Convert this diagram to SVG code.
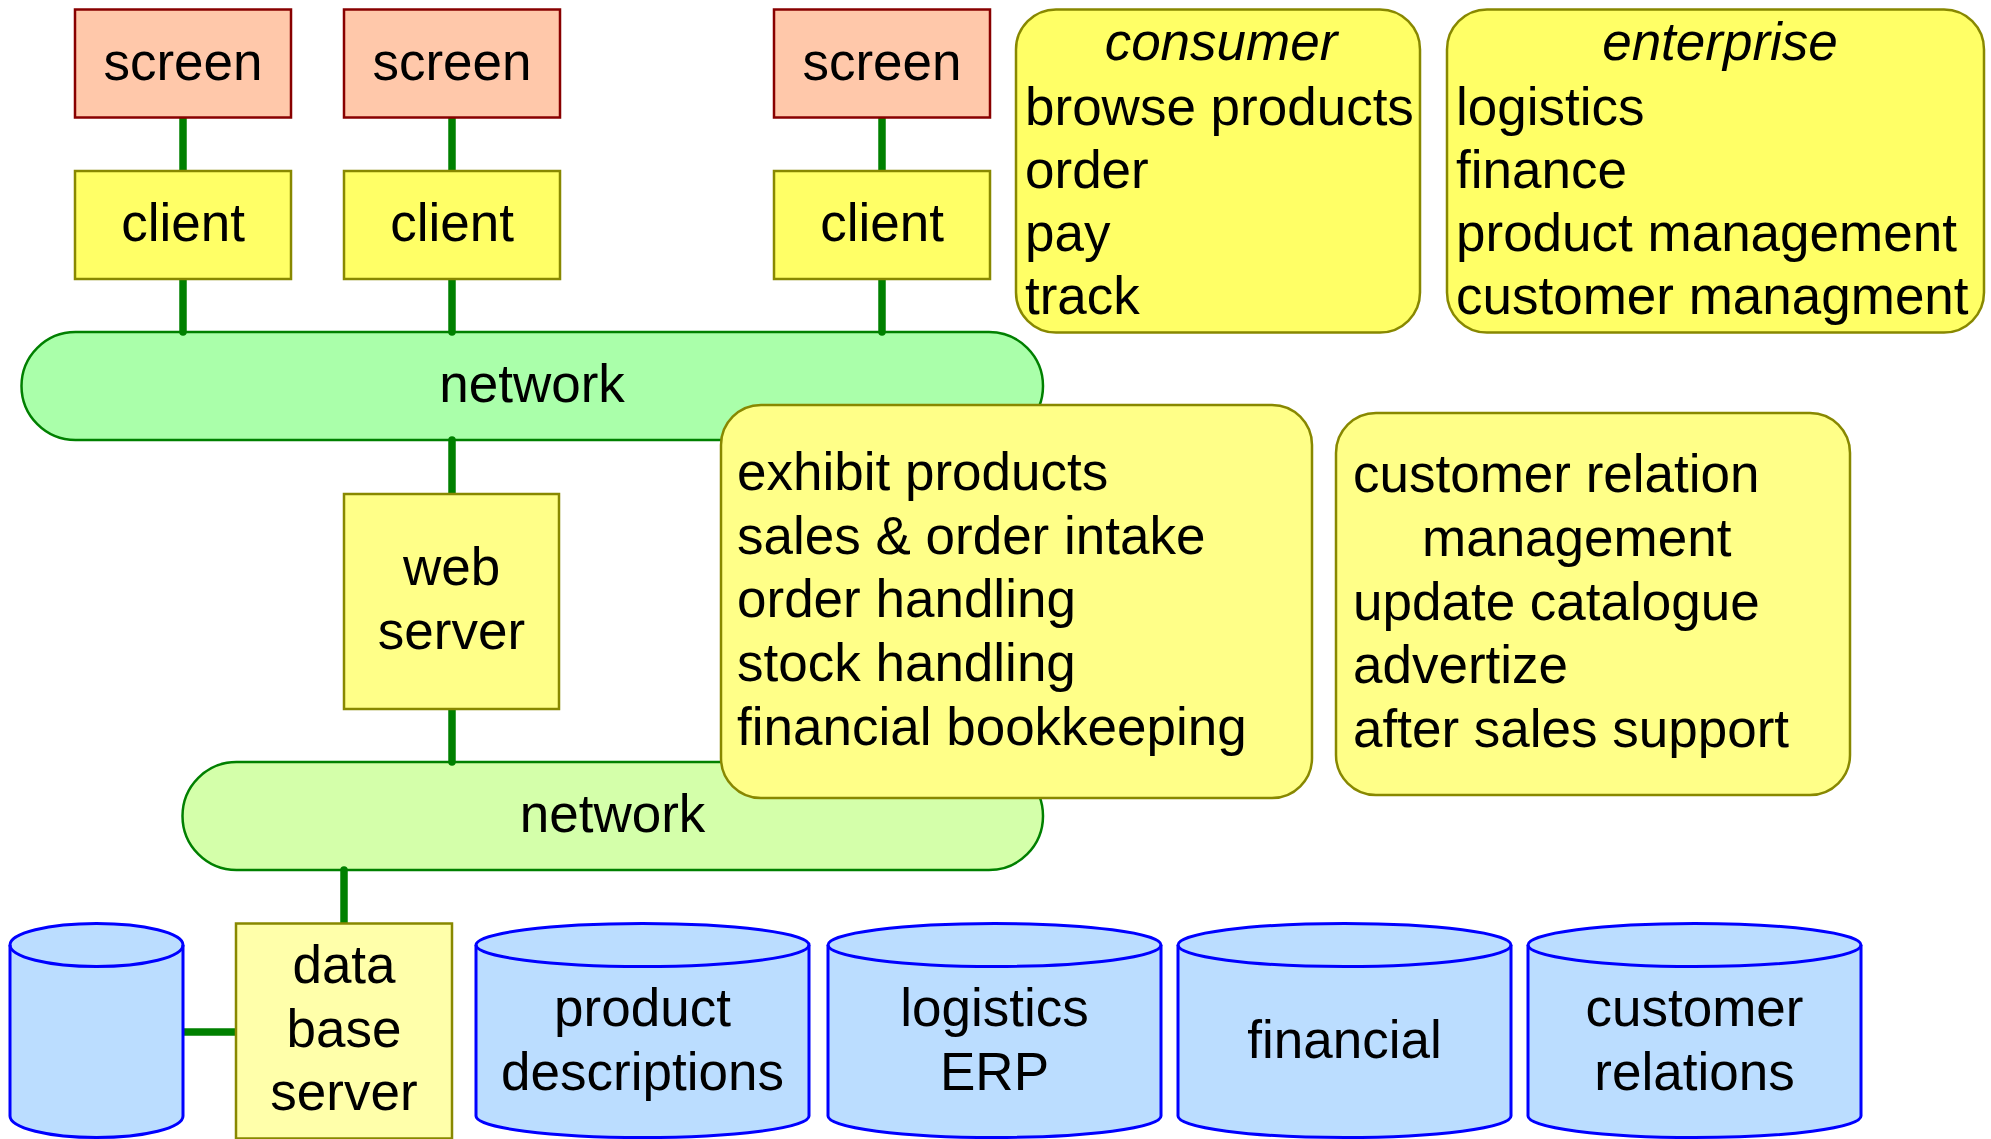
<svg xmlns="http://www.w3.org/2000/svg" width="1991" height="1139" viewBox="0 0 1991 1139">
<style>
text{font-family:"Liberation Sans",Arial,sans-serif;font-size:53px;fill:#000}
.c{text-anchor:middle}
.scr{fill:#ffc8aa;stroke:#880000;stroke-width:2.5}
.cli{fill:#ffff66;stroke:#888800;stroke-width:2.5}
.srv{fill:#ffff88;stroke:#888800;stroke-width:2.5}
.dbs{fill:#ffffaa;stroke:#888800;stroke-width:2.5}
.note{fill:#ffff66;stroke:#888800;stroke-width:2.5}
.note2{fill:#ffff88;stroke:#888800;stroke-width:2.5}
.net1{fill:#aaffaa;stroke:#008000;stroke-width:2.5}
.net2{fill:#d4ffaa;stroke:#008000;stroke-width:2.5}
.cyl{fill:#bbddff;stroke:#0000ff;stroke-width:3}
.cylt{fill:none;stroke:#0000ff;stroke-width:3}
.con line{stroke:#008000;stroke-width:7.5;stroke-linecap:round}
</style>
<defs>
<path id="cylshape" d="M0,945 A166.5,21.5 0 0 1 333,945 L333,1116 A166.5,21.5 0 0 1 0,1116 Z"/>
<path id="cyltop" d="M0,945 A166.5,21.5 0 0 0 333,945"/>
</defs>

<g id="network1"><rect class="net1" x="21.5" y="332" width="1021.5" height="108" rx="54" ry="54"/><text class="c" x="532" y="402">network</text></g>
<g id="network2"><rect class="net2" x="182.5" y="762" width="860.5" height="108" rx="54" ry="54"/><text class="c" x="612.5" y="832">network</text></g>

<g class="con" id="connectors">
<line x1="183" y1="117" x2="183" y2="171"/>
<line x1="452" y1="117" x2="452" y2="171"/>
<line x1="882" y1="117" x2="882" y2="171"/>
<line x1="183" y1="279" x2="183" y2="332"/>
<line x1="452" y1="279" x2="452" y2="332"/>
<line x1="882" y1="279" x2="882" y2="332"/>
<line x1="452" y1="440" x2="452" y2="494"/>
<line x1="452" y1="709" x2="452" y2="762"/>
<line x1="344" y1="870" x2="344" y2="923"/>
<line x1="183" y1="1032" x2="236" y2="1032"/>
</g>

<g id="screen1"><rect class="scr" x="75" y="9.5" width="216" height="108"/><text class="c" x="183" y="79.5">screen</text></g>
<g id="screen2"><rect class="scr" x="344" y="9.5" width="216" height="108"/><text class="c" x="452" y="79.5">screen</text></g>
<g id="screen3"><rect class="scr" x="774" y="9.5" width="216" height="108"/><text class="c" x="882" y="79.5">screen</text></g>

<g id="client1"><rect class="cli" x="75" y="171" width="216" height="108"/><text class="c" x="183" y="240.5">client</text></g>
<g id="client2"><rect class="cli" x="344" y="171" width="216" height="108"/><text class="c" x="452" y="240.5">client</text></g>
<g id="client3"><rect class="cli" x="774" y="171" width="216" height="108"/><text class="c" x="882" y="240.5">client</text></g>

<g id="webserver"><rect class="srv" x="344" y="494" width="215" height="215"/><text class="c" x="451.5" y="585">web</text><text class="c" x="451.5" y="648.5">server</text></g>

<g id="dbserver"><rect class="dbs" x="236" y="923.5" width="216" height="215"/><text class="c" x="344" y="983">data</text><text class="c" x="344" y="1046.5">base</text><text class="c" x="344" y="1110">server</text></g>

<g id="consumer"><rect class="note" x="1016" y="9.5" width="404" height="323" rx="40" ry="40"/>
<text class="c" x="1221" y="60" font-style="italic">consumer</text>
<text x="1025" y="124.5">browse products</text>
<text x="1025" y="187.5">order</text>
<text x="1025" y="250.5">pay</text>
<text x="1025" y="314">track</text></g>

<g id="enterprise"><rect class="note" x="1447" y="9.5" width="537" height="323" rx="40" ry="40"/>
<text class="c" x="1720" y="60" font-style="italic">enterprise</text>
<text x="1456" y="124.5">logistics</text>
<text x="1456" y="187.5">finance</text>
<text x="1456" y="250.5">product management</text>
<text x="1456" y="314">customer managment</text></g>

<g id="webfunctions"><rect class="note2" x="721" y="405" width="591" height="393" rx="40" ry="40"/>
<text x="737" y="490">exhibit products</text>
<text x="737" y="553.5">sales &amp; order intake</text>
<text x="737" y="617">order handling</text>
<text x="737" y="680.5">stock handling</text>
<text x="737" y="744.5">financial bookkeeping</text></g>

<g id="crmfunctions"><rect class="note2" x="1336" y="413" width="514" height="382" rx="40" ry="40"/>
<text x="1353" y="492">customer relation</text>
<text x="1422" y="556">management</text>
<text x="1353" y="619.5">update catalogue</text>
<text x="1353" y="683">advertize</text>
<text x="1353" y="747">after sales support</text></g>

<g id="db0"><path class="cyl" d="M10,945 A86.5,21.5 0 0 1 183,945 L183,1116 A86.5,21.5 0 0 1 10,1116 Z"/><path class="cylt" d="M10,945 A86.5,21.5 0 0 0 183,945"/></g>

<g id="db-product" transform="translate(476,0)"><use href="#cylshape" class="cyl"/><use href="#cyltop" class="cylt"/><text class="c" x="166.5" y="1026">product</text><text class="c" x="166.5" y="1089.5">descriptions</text></g>
<g id="db-logistics" transform="translate(828,0)"><use href="#cylshape" class="cyl"/><use href="#cyltop" class="cylt"/><text class="c" x="166.5" y="1026">logistics</text><text class="c" x="166.5" y="1089.5">ERP</text></g>
<g id="db-financial" transform="translate(1178,0)"><use href="#cylshape" class="cyl"/><use href="#cyltop" class="cylt"/><text class="c" x="166.5" y="1058">financial</text></g>
<g id="db-customer" transform="translate(1528,0)"><use href="#cylshape" class="cyl"/><use href="#cyltop" class="cylt"/><text class="c" x="166.5" y="1026">customer</text><text class="c" x="166.5" y="1089.5">relations</text></g>
</svg>
